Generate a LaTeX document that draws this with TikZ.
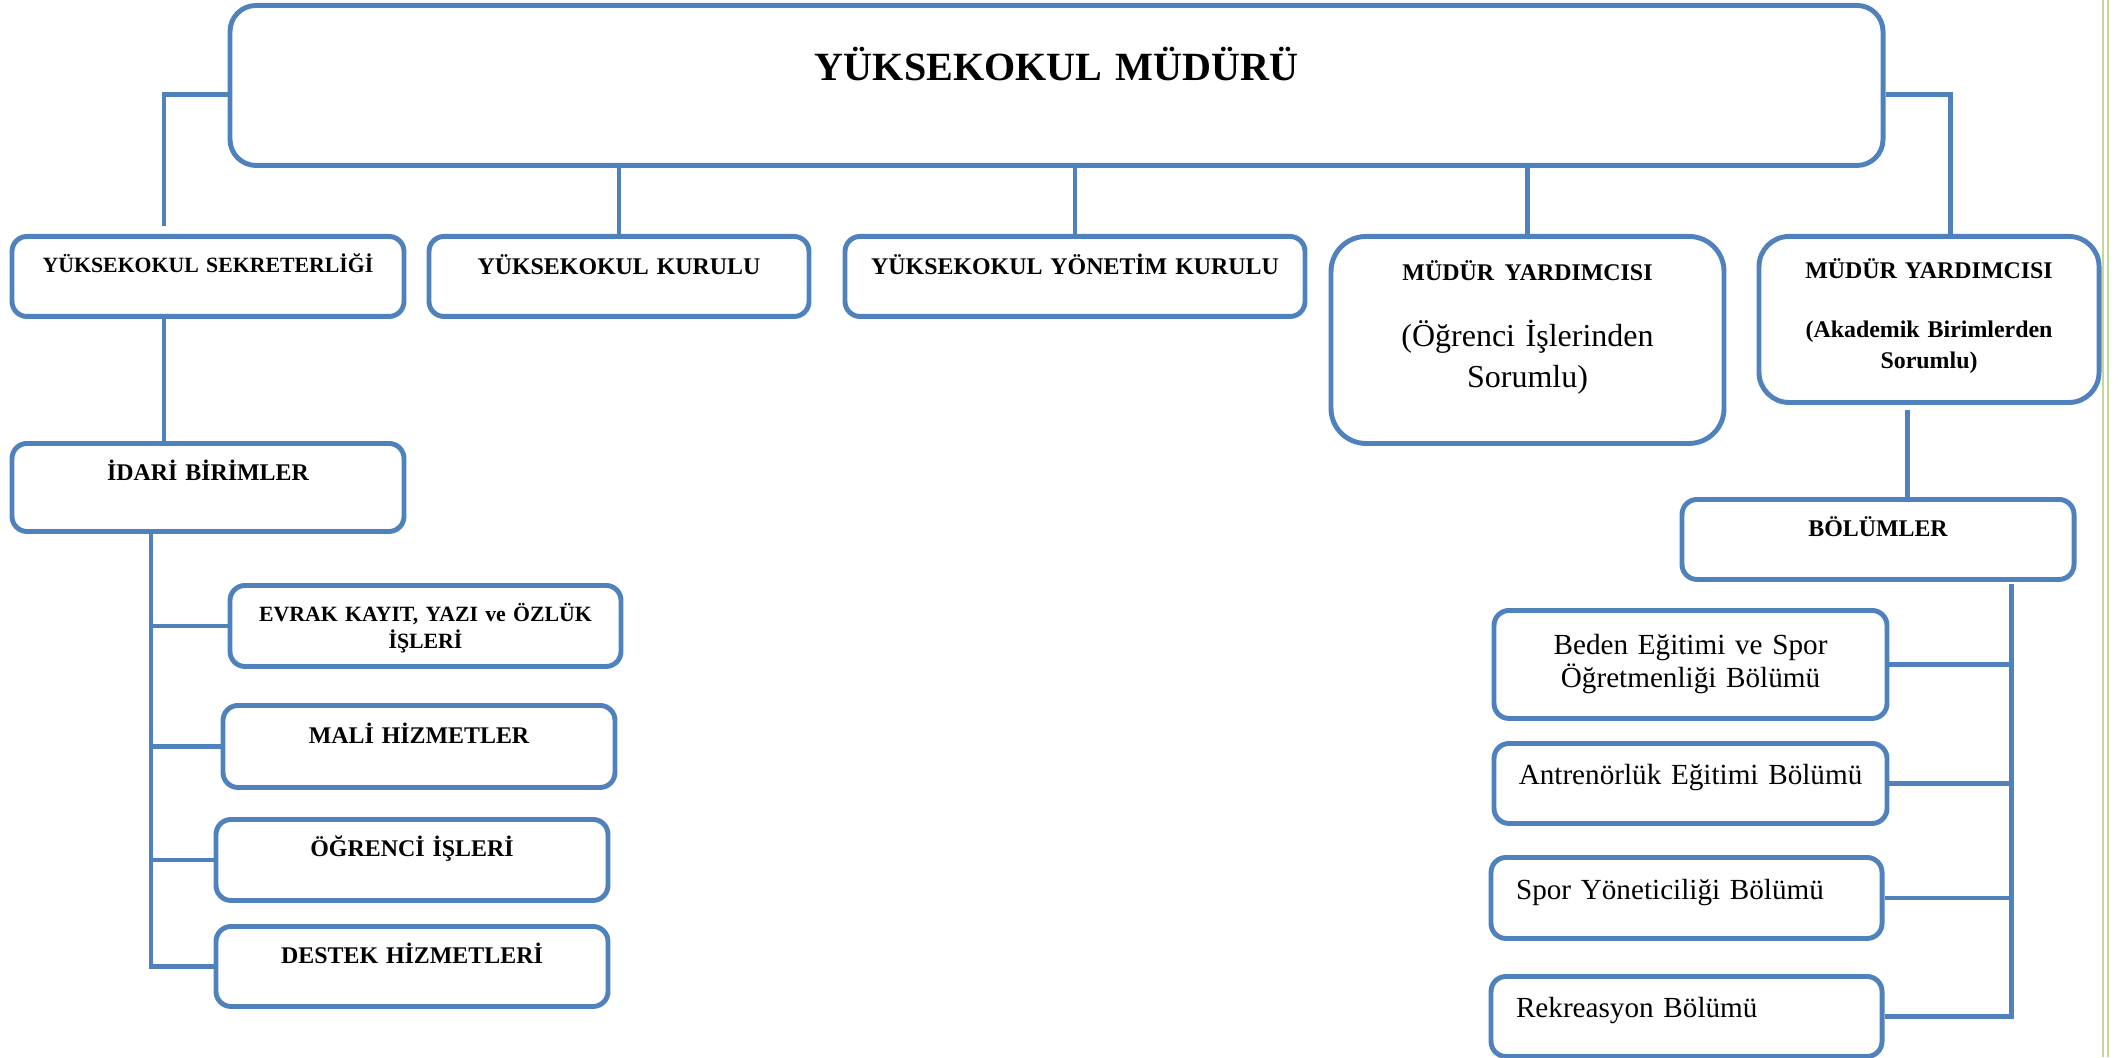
\documentclass[tikz,border=0pt]{standalone}
\usepackage{fontspec}
\setmainfont{Liberation Serif}
\usepackage{xcolor}
\usepackage{tikz}

\definecolor{unitblue}{HTML}{4F81BD}
\definecolor{pagegreen}{HTML}{C3D69B}

\begin{document}
\begin{tikzpicture}[unit/.style={draw=unitblue, line width=1.4pt, rounded corners=0.15cm, anchor=north, inner sep=0pt, align=center},
    head/.style={font=\fontsize{6.8}{8}\selectfont\bfseries},
    plain/.style={font=\fontsize{8.3}{9.4}\selectfont},
    link/.style={draw=unitblue, line width=1.4pt}]
    \useasboundingbox (0,0) rectangle (21.23,-10.57);
    \draw[pagegreen, line width=0.6pt] (21.03,0) -- (21.03,-10.57);
    \draw[pagegreen, line width=0.6pt] (21.08,0) -- (21.08,-10.57);

    \node[unit, rounded corners=0.26cm, text width=16.53cm, text height=0.75cm, text depth=0.85cm, font=\fontsize{11.4}{13}\selectfont\bfseries] (mudur) at (10.565,-0.03) {YÜKSEKOKUL MÜDÜRÜ};

    \node[unit, text width=3.92cm, text height=0.36cm, text depth=0.44cm, font=\fontsize{6.2}{7.5}\selectfont\bfseries] (sekr) at (2.08,-2.34) {YÜKSEKOKUL SEKRETERLİĞİ};
    \node[unit, head, text width=3.80cm, text height=0.38cm, text depth=0.42cm] (kurulu) at (6.19,-2.34) {YÜKSEKOKUL KURULU};
    \node[unit, head, text width=4.60cm, text height=0.38cm, text depth=0.42cm] (yonetim) at (10.75,-2.34) {YÜKSEKOKUL YÖNETİM KURULU};
    \node[unit, rounded corners=0.35cm, text width=3.93cm, text height=0.44cm, text depth=1.63cm, font=\fontsize{9.1}{11.7}\selectfont] (ogryrd) at (15.275,-2.34) {{\fontsize{6.8}{8}\selectfont\bfseries MÜDÜR YARDIMCISI}\\[7.1pt] (Öğrenci İşlerinden\\ Sorumlu)};
    \node[unit, rounded corners=0.3cm, text width=3.40cm, text height=0.42cm, text depth=1.24cm, font=\fontsize{6.8}{8.8}\selectfont\bfseries] (akdyrd) at (19.29,-2.34) {MÜDÜR YARDIMCISI\\[8pt] (Akademik Birimlerden\\ Sorumlu)};

    \node[unit, head, text width=3.92cm, text height=0.37cm, text depth=0.51cm] (idari) at (2.08,-4.41) {İDARİ BİRİMLER};
    \node[unit, text width=3.91cm, text height=0.36cm, text depth=0.45cm, font=\fontsize{6.2}{7.7}\selectfont\bfseries] (evrak) at (4.255,-5.83) {EVRAK KAYIT, YAZI ve ÖZLÜK\\ İŞLERİ};
    \node[unit, head, text width=3.92cm, text height=0.38cm, text depth=0.44cm] (mali) at (4.19,-7.03) {MALİ HİZMETLER};
    \node[unit, head, text width=3.92cm, text height=0.37cm, text depth=0.44cm] (ogris) at (4.12,-8.17) {ÖĞRENCİ İŞLERİ};
    \node[unit, head, text width=3.92cm, text height=0.37cm, text depth=0.43cm] (destek) at (4.12,-9.24) {DESTEK HİZMETLERİ};

    \node[unit, head, text width=3.92cm, text height=0.37cm, text depth=0.43cm] (bolum) at (18.78,-4.97) {BÖLÜMLER};
    \node[unit, plain, text width=3.93cm, text height=0.44cm, text depth=0.64cm] (beden) at (16.905,-6.08) {Beden Eğitimi ve Spor\\ Öğretmenliği Bölümü};
    \node[unit, plain, text width=3.93cm, text height=0.41cm, text depth=0.39cm] (antr) at (16.905,-7.41) {Antrenörlük Eğitimi Bölümü};
    \node[unit, plain, inner xsep=0.25cm, align=left, text width=3.41cm, text height=0.42cm, text depth=0.39cm] (spor) at (16.865,-8.55) {Spor Yöneticiliği Bölümü};
    \node[unit, plain, inner xsep=0.25cm, align=left, text width=3.41cm, text height=0.41cm, text depth=0.39cm] (rekr) at (16.865,-9.74) {Rekreasyon Bölümü};

    \coordinate (sekr-in) at (1.64,-2.265);
    \coordinate (akd-in) at (19.50,-2.34);
    \coordinate (idari-bus) at (1.51,-5.29);
    \coordinate (bolum-in) at (19.07,-4.10);
    \coordinate (bolum-bus) at (20.11,-5.84);

    \draw[link] ([yshift=-0.09cm]mudur.west) -| (sekr-in);
    \draw[link] ([yshift=-0.09cm]mudur.east) -| (akd-in);
    \foreach \n in {kurulu, yonetim, ogryrd}
        \draw[link] (mudur.south -| \n.north) -- (\n.north);
    \draw[link] (sekr.south -| sekr-in) -- (idari.north -| sekr-in);
    \draw[link] (idari.south -| idari-bus) |- (destek.west);
    \foreach \n in {evrak, mali, ogris}
        \draw[link] (\n.west -| idari-bus) -- (\n.west);
    \draw[link] (bolum-in) -- (bolum.north -| bolum-in);
    \draw[link] (bolum-bus) |- (rekr.east);
    \foreach \n in {beden, antr, spor}
        \draw[link] (\n.east -| bolum-bus) -- (\n.east);
\end{tikzpicture}
\end{document}
